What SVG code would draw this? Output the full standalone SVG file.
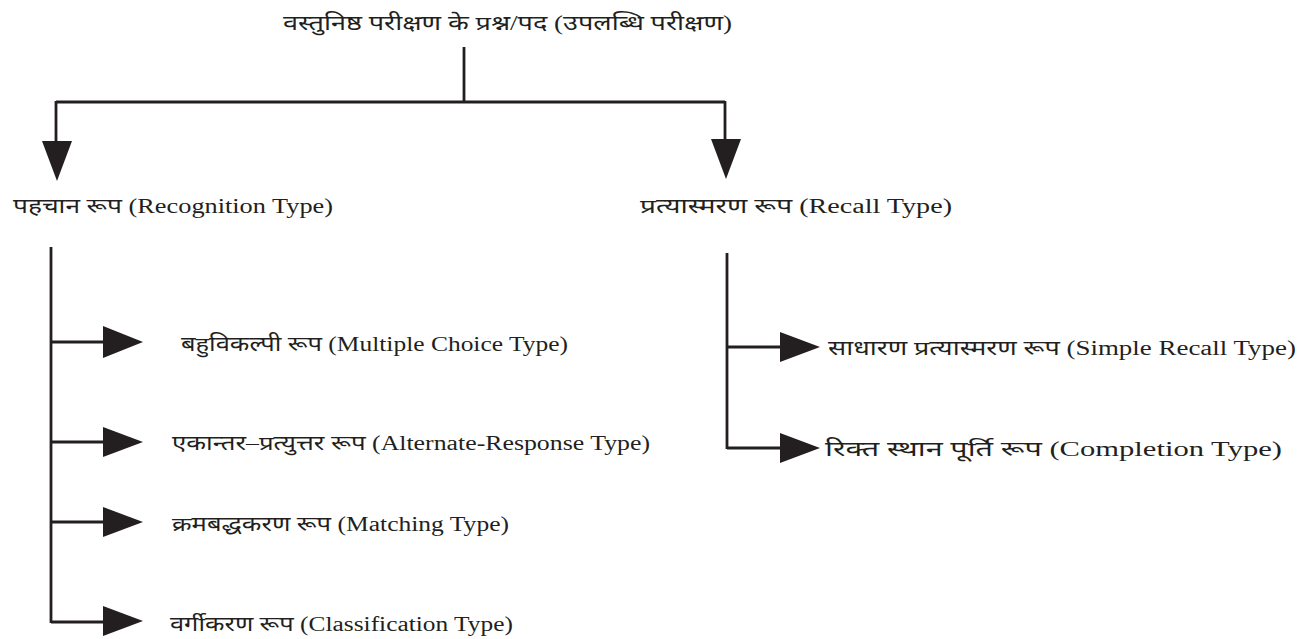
<svg xmlns="http://www.w3.org/2000/svg" width="1306" height="639" viewBox="0 0 1306 639">
<style>
.t{font-family:"Liberation Serif","Noto Sans","DejaVu Sans",serif;font-size:20px;fill:#231f20}
.ln{stroke:#231f20;stroke-width:2.8;fill:none}
.ah{fill:#231f20}
</style>
<rect width="1306" height="639" fill="#fff"/>
<g id="connectors">
<path class="ln" d="M464,47 V102 M56,102 H725 M56,101 V145 M725,101 V145"/>
<polygon class="ah" points="42,141 72,141 57,181"/>
<polygon class="ah" points="711,139 741,139 726,179"/>
<path class="ln" d="M51,247 V623 M51,342 H106 M51,442 H106 M51,522 H106 M51,622 H106"/>
<polygon class="ah" points="103,326 143,342 103,358"/>
<polygon class="ah" points="103,427 143,442 103,457"/>
<polygon class="ah" points="103,507 143,522 103,537"/>
<polygon class="ah" points="103,606 143,621 103,636"/>
<path class="ln" d="M727,253 V449 M727,347 H783 M727,448 H783"/>
<polygon class="ah" points="780,332 820,347 780,362"/>
<polygon class="ah" points="780,433 820,448 780,463"/>
</g>
<g id="root"><text class="t" x="283" y="30" textLength="449" lengthAdjust="spacingAndGlyphs">वस्तुनिष्ठ परीक्षण के प्रश्न/पद (उपलब्धि परीक्षण)</text></g>
<g id="recognition"><text class="t" x="13" y="213" textLength="320" lengthAdjust="spacingAndGlyphs">पहचान रूप (Recognition Type)</text></g>
<g id="recall"><text class="t" x="640" y="213" textLength="312" lengthAdjust="spacingAndGlyphs">प्रत्यास्मरण रूप (Recall Type)</text></g>
<g id="multiple"><text class="t" x="181" y="351" textLength="387" lengthAdjust="spacingAndGlyphs">बहुविकल्पी रूप (Multiple Choice Type)</text></g>
<g id="alternate"><text class="t" x="172" y="450" textLength="478" lengthAdjust="spacingAndGlyphs">एकान्तर–प्रत्युत्तर रूप (Alternate-Response Type)</text></g>
<g id="matching"><text class="t" x="172" y="531" textLength="337" lengthAdjust="spacingAndGlyphs">क्रमबद्धकरण रूप (Matching Type)</text></g>
<g id="classification"><text class="t" x="170" y="631" textLength="343" lengthAdjust="spacingAndGlyphs">वर्गीकरण रूप (Classification Type)</text></g>
<g id="simple"><text class="t" x="828" y="355" textLength="468" lengthAdjust="spacingAndGlyphs">साधारण प्रत्यास्मरण रूप (Simple Recall  Type)</text></g>
<g id="completion"><text class="t" x="825" y="456" textLength="457" lengthAdjust="spacingAndGlyphs">रिक्त स्थान पूर्ति रूप (Completion Type)</text></g>
</svg>
